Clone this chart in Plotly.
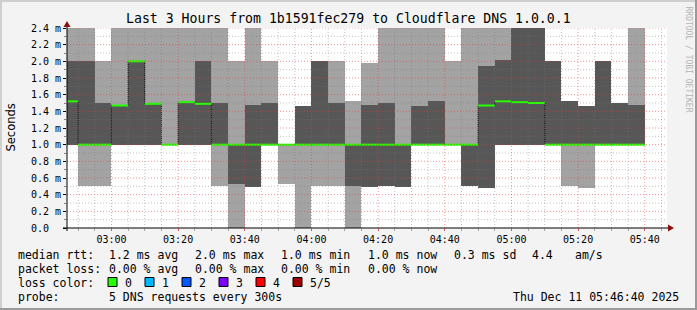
import plotly.graph_objects as go

# ---------------- data ----------------
interval_end = ["02:50", "02:55", "03:00", "03:05", "03:10", "03:15", "03:20", "03:25",
                "03:30", "03:35", "03:40", "03:45", "03:50", "03:55", "04:00", "04:05",
                "04:10", "04:15", "04:20", "04:25", "04:30", "04:35", "04:40", "04:45",
                "04:50", "04:55", "05:00", "05:05", "05:10", "05:15", "05:20", "05:25",
                "05:30", "05:35", "05:40"]
# sorted ping times per interval (ms): p1 min .. p5 max, p3 = median
p1 = [1.0, 0.5, 0.5, 1.0, 1.0, 1.0, 1.0, 1.0, 1.0, 0.5, 0.0, 0.49, 1.0, 0.53, 0.0, 0.5,
      0.5, 0.0, 0.49, 0.5, 0.49, 1.0, 1.0, 1.0, 0.5, 0.48, 1.0, 1.0, 1.0, 1.0, 0.51, 0.48,
      1.0, 1.0, 1.0]
p2 = [1.0, 1.0, 1.0, 1.0, 1.0, 1.0, 1.0, 1.0, 1.0, 1.0, 0.53, 0.49, 1.0, 1.0, 1.0, 1.0,
      1.0, 0.51, 0.49, 0.5, 0.49, 1.0, 1.0, 1.0, 0.5, 0.48, 1.0, 1.0, 1.0, 1.0, 1.0, 1.0,
      1.0, 1.0, 1.0]
p3 = [1.52, 1.0, 1.0, 1.47, 2.0, 1.49, 1.0, 1.51, 1.49, 1.0, 1.0, 1.0, 1.0, 1.0, 1.0, 1.0,
      1.0, 1.0, 1.0, 1.0, 1.0, 1.0, 1.0, 1.0, 1.0, 1.47, 1.52, 1.51, 1.5, 1.0, 1.0, 1.0,
      1.0, 1.0, 1.0]
p4 = [2.0, 2.0, 1.5, 1.47, 2.0, 1.5, 1.0, 1.5, 2.0, 1.5, 1.0, 1.48, 1.5, 1.0, 1.46, 2.0,
      1.5, 1.0, 1.48, 1.5, 1.0, 1.47, 1.52, 1.0, 1.0, 1.94, 2.02, 2.4, 2.4, 2.0, 1.52, 1.47,
      2.0, 1.5, 1.48]
p5 = [2.4, 2.4, 2.0, 2.4, 2.4, 2.4, 2.4, 2.4, 2.4, 2.4, 2.0, 2.4, 2.0, 1.0, 1.46, 2.0,
      2.0, 1.52, 1.98, 2.4, 2.4, 2.4, 2.4, 2.0, 2.4, 2.4, 2.4, 2.4, 2.4, 2.0, 1.52, 1.47,
      2.0, 1.5, 2.4]

x_tick_labels = ["03:00", "03:20", "03:40", "04:00", "04:20", "04:40", "05:00", "05:20", "05:40"]
y_tick_vals = [0.0, 0.2, 0.4, 0.6, 0.8, 1.0, 1.2, 1.4, 1.6, 1.8, 2.0, 2.2, 2.4]
y_tick_labels = ["0.0\u00a0\u00a0", "0.2 m", "0.4 m", "0.6 m", "0.8 m", "1.0 m", "1.2 m",
                 "1.4 m", "1.6 m", "1.8 m", "2.0 m", "2.2 m", "2.4 m"]
graph_start = "02:46:40"
graph_end = "05:46:40"

loss_labels = ["0", "1", "2", "3", "4", "5/5"]
loss_colors = ["#26ff00", "#00b8ff", "#0059ff", "#7e00ff", "#ff0000", "#a10000"]

# ---------------- helpers ----------------
def to_min(s):
    parts = [int(v) for v in s.split(":")]
    while len(parts) < 3:
        parts.append(0)
    return parts[0] * 60 + parts[1] + parts[2] / 60.0

W, H = 697, 310
L, T = 67, 28
PW, PH = 600, 200
R, B = W - L - PW, H - T - PH

def px(xp):  # pixel x -> paper
    return (xp - L) / PW

def py(yp):  # pixel y -> paper
    return (T + PH - yp) / PH

x0 = to_min(graph_start)
x1 = to_min(graph_end)
ends = [to_min(s) for s in interval_end]
starts = [max(e - 5, x0) for e in ends]
centers = [(s + e) / 2 for s, e in zip(starts, ends)]
widths = [e - s for s, e in zip(starts, ends)]

LIGHT = "#a3a3a3"
DARK = "#575757"
GREEN = loss_colors[0]
MONO = "DejaVu Sans Mono"

fig = go.Figure()
fig.add_trace(go.Bar(x=centers, y=[b - a for a, b in zip(p1, p5)], base=p1, width=widths,
                     marker=dict(color=LIGHT, line=dict(width=0)), hoverinfo="skip"))
fig.add_trace(go.Bar(x=centers, y=[b - a for a, b in zip(p2, p4)], base=p2, width=widths,
                     marker=dict(color=DARK, line=dict(width=0)), hoverinfo="skip"))

# median step connectors (dark dotted)
fig.add_trace(go.Scatter(x=starts + [ends[-1]], y=p3 + [p3[-1]], mode="lines",
                         line=dict(color="#000000", width=1, dash="1px,1px", shape="hv"),
                         hoverinfo="skip"))
# median segments (loss colour)
mx, my = [], []
for s, e, m in zip(starts, ends, p3):
    mx += [s, e, None]
    my += [m, m, None]
fig.add_trace(go.Scatter(x=mx, y=my, mode="lines", line=dict(color=GREEN, width=2),
                         hoverinfo="skip"))

shapes = []
# grid lines on top of the data
major_x = [to_min(s) for s in x_tick_labels]
t = to_min("02:50")
minor_x = []
while t < x1:
    if all(abs(t - m) > 1e-6 for m in major_x):
        minor_x.append(t)
    t += 5
for xv in minor_x:
    shapes.append(dict(type="line", xref="x", yref="paper", x0=xv, x1=xv, y0=0, y1=1,
                       line=dict(color="rgba(120,120,120,0.45)", width=1, dash="1px,2px"),
                       layer="above"))
for xv in major_x:
    shapes.append(dict(type="line", xref="x", yref="paper", x0=xv, x1=xv, y0=0, y1=1,
                       line=dict(color="rgba(235,60,60,0.55)", width=1, dash="1px,2px"),
                       layer="above"))
for k in range(1, 25):
    yv = k * 0.1
    major = (k % 2 == 0)
    shapes.append(dict(type="line", xref="paper", yref="y", x0=0, x1=1, y0=yv, y1=yv,
                       line=dict(color="rgba(235,60,60,0.55)" if major else "rgba(120,120,120,0.45)",
                                 width=1, dash="1px,2px"),
                       layer="above"))

# axes lines and arrows
shapes.append(dict(type="line", xref="paper", yref="paper", x0=px(63), x1=px(669), y0=0, y1=0,
                   line=dict(color="#000000", width=1), layer="above"))
shapes.append(dict(type="line", xref="paper", yref="paper", x0=0, x1=0, y0=py(231), y1=py(25),
                   line=dict(color="#000000", width=1), layer="above"))
shapes.append(dict(type="path", xref="paper", yref="paper",
                   path=f"M {px(668)} {py(224.5)} L {px(674)} {py(228)} L {px(668)} {py(231.5)} Z",
                   fillcolor="#8b1010", line=dict(width=0), layer="above"))
shapes.append(dict(type="path", xref="paper", yref="paper",
                   path=f"M {px(63.5)} {py(27)} L {px(67)} {py(21)} L {px(70.5)} {py(27)} Z",
                   fillcolor="#8b1010", line=dict(width=0), layer="above"))

# frame
shapes.append(dict(type="rect", xref="paper", yref="paper", x0=px(0), x1=px(697), y0=py(0), y1=py(2),
                   fillcolor="#cfcfcf", line=dict(width=0)))
shapes.append(dict(type="rect", xref="paper", yref="paper", x0=px(0), x1=px(2), y0=py(0), y1=py(310),
                   fillcolor="#cfcfcf", line=dict(width=0)))
shapes.append(dict(type="rect", xref="paper", yref="paper", x0=px(0), x1=px(697), y0=py(308), y1=py(310),
                   fillcolor="#9a9a9a", line=dict(width=0)))
shapes.append(dict(type="rect", xref="paper", yref="paper", x0=px(695), x1=px(697), y0=py(0), y1=py(310),
                   fillcolor="#9a9a9a", line=dict(width=0)))

# loss colour squares
square_x = [108, 145, 182, 219, 256, 293]
label_x = [123.3, 160.3, 197.3, 234.3, 271.3, 308.3]
for sx, c in zip(square_x, loss_colors):
    shapes.append(dict(type="rect", xref="paper", yref="paper", x0=px(sx), x1=px(sx + 9),
                       y0=py(286.5), y1=py(277.5), fillcolor=c,
                       line=dict(color="#000000", width=1)))

ann = []
def text(xp, yp, s, size=11.5, anchor="left", color="#000000", family=MONO, angle=0):
    ann.append(dict(x=px(xp), y=py(yp), xref="paper", yref="paper", text=s, showarrow=False,
                    xanchor=anchor, yanchor="middle", textangle=angle,
                    font=dict(family=family, size=size, color=color)))

text(348.5, 18.5, "Last 3 Hours from 1b1591fec279 to Cloudflare DNS 1.0.0.1", size=13.2, anchor="center")
text(10.5, 128, "Seconds", size=11.5, anchor="center", family="DejaVu Sans", angle=-90)
text(688.5, 59, "RRDTOOL / TOBI OETIKER", size=8, anchor="center", color="#b4b4b4", angle=90)

row1 = [(16, "median rtt:"), (107.3, "1.2 ms avg"), (193.3, "2.0 ms max"), (279.3, "1.0 ms min"),
        (366, "1.0 ms now"), (451.7, "0.3 ms sd"), (530, "4.4"), (572.7, "am/s")]
row2 = [(16, "packet loss:"), (107.3, "0.00 % avg"), (193.3, "0.00 % max"), (279.3, "0.00 % min"),
        (366, "0.00 % now")]
for xp, s in row1:
    text(xp, 254.5, s)
for xp, s in row2:
    text(xp, 268.5, s)
text(16, 282.5, "loss color:")
for lx, s in zip(label_x, loss_labels):
    text(lx, 282.5, s)
text(16, 296.5, "probe:")
text(107.3, 296.5, "5 DNS requests every 300s")
text(680.5, 296.5, "Thu Dec 11 05:46:40 2025", anchor="right")

fig.update_layout(
    width=W, height=H, margin=dict(l=L, r=R, t=T, b=B, pad=0),
    paper_bgcolor="#f3f3f3", plot_bgcolor="#ffffff",
    barmode="overlay", bargap=0, showlegend=False,
    shapes=shapes, annotations=ann,
    xaxis=dict(range=[x0, x1], tickvals=major_x, ticktext=x_tick_labels,
               showgrid=False, zeroline=False, showline=False,
               ticks="outside", ticklen=2, tickcolor="#e05050",
               tickfont=dict(family=MONO, size=10, color="#000000"),
               minor=dict(tickvals=minor_x, ticks="outside", ticklen=2, tickcolor="#a0a0a0")),
    yaxis=dict(range=[0, 2.4], tickvals=y_tick_vals, ticktext=y_tick_labels,
               showgrid=False, zeroline=False, showline=False,
               ticks="outside", ticklen=3, tickcolor="#000000",
               tickfont=dict(family=MONO, size=10, color="#000000"),
               minor=dict(dtick=0.1, ticks="outside", ticklen=2, tickcolor="#808080")),
)
fig.write_html("out.html")
